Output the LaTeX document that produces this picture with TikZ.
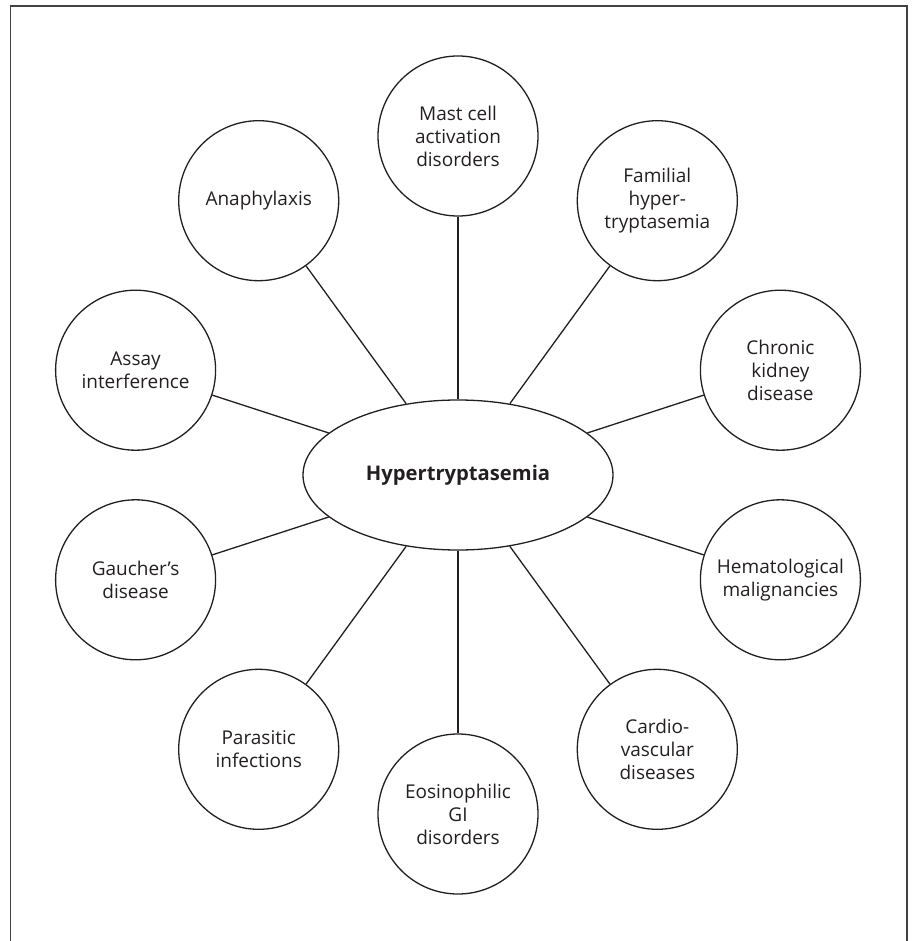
\documentclass[tikz,border=0pt]{standalone}
\usepackage{fontspec}
\setmainfont{Open Sans}
\usetikzlibrary{shapes.geometric}
\definecolor{ink}{HTML}{231F20}
\tikzset{
  sat/.style={circle, draw=ink, line width=1.3pt, minimum size=160pt, inner sep=0pt,
    align=center, text=ink, font=\fontsize{19}{23}\selectfont},
  hub/.style={ellipse, draw=ink, line width=1.3pt, minimum width=310pt, minimum height=150pt,
    inner sep=0pt, text=ink, font=\fontsize{20.2}{24}\selectfont\bfseries},
  link/.style={draw=ink, line width=1.3pt},
  frame/.style={draw=ink!85, line width=1.6pt}
}
\begin{document}
\begin{tikzpicture}[x=1pt,y=-1pt]
\useasboundingbox (0,0) rectangle (912,941);
\coordinate (f1) at (10.5,941);
\coordinate (f2) at (10.5,6);
\coordinate (f3) at (907,6);
\coordinate (f4) at (907,941);
\draw[frame] (f1) -- (f2) -- (f3) -- (f4);
\node[hub] (c) at (458,475) {Hypertryptasemia};
\node[sat] (s1) at (458,136) {Mast cell\\activation\\disorders};
\node[sat] (s2) at (657.3,200.7) {Familial\\hyper-\\tryptasemia};
\node[sat] (s3) at (780.4,370.2) {Chronic\\kidney\\disease};
\node[sat] (s4) at (780.4,579.8) {Hematological\\malignancies};
\node[sat] (s5) at (657.3,749.3) {Cardio-\\vascular\\diseases};
\node[sat] (s6) at (458,814) {Eosinophilic\\GI\\disorders};
\node[sat] (s7) at (258.7,749.3) {Parasitic\\infections};
\node[sat] (s8) at (135.6,579.8) {Gaucher’s\\disease};
\node[sat] (s9) at (135.6,370.2) {Assay\\interference};
\node[sat] (s10) at (258.7,200.7) {Anaphylaxis};
\foreach \i in {1,...,10} {\draw[link] (c) -- (s\i);}
\end{tikzpicture}
\end{document}
